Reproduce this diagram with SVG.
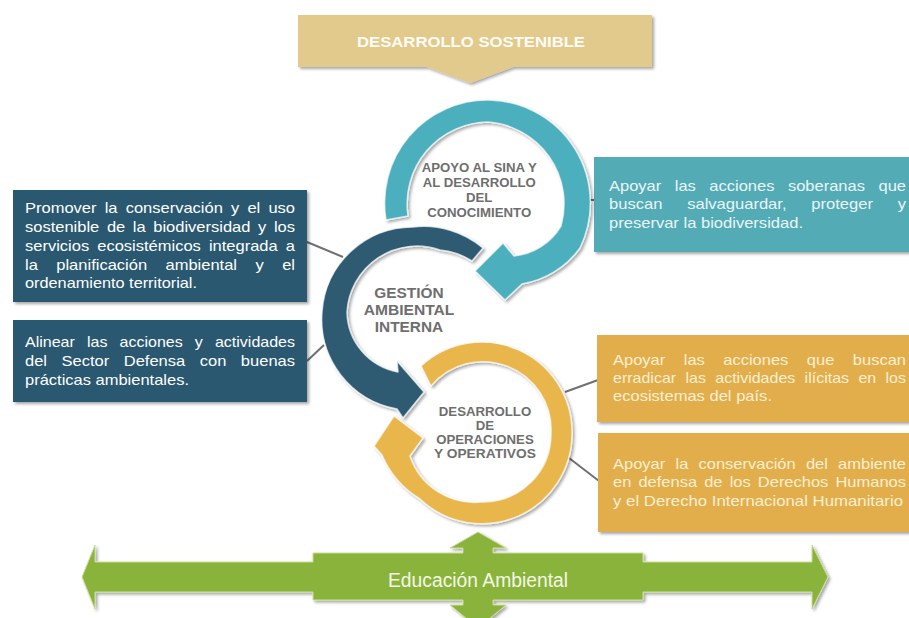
<svg xmlns="http://www.w3.org/2000/svg" width="909" height="618" viewBox="0 0 909 618">
<defs>
<filter id="sh" x="-10%" y="-10%" width="125%" height="130%"><feDropShadow dx="2" dy="2" stdDeviation="1.5" flood-color="#000" flood-opacity="0.35"/></filter>
<style>
.ring{stroke:#ffffff;stroke-opacity:0.7;stroke-width:1.5;stroke-linejoin:round;filter:url(#sh)}
.box{filter:url(#sh)}
.t{font-family:"Liberation Sans",Arial,sans-serif;font-size:15px}
.tw{fill:#ffffff}
.tt{fill:#eaf6f7}
.to{fill:#fbefd2}
.lbl{font-family:"Liberation Sans",Arial,sans-serif;font-weight:bold;fill:#6e6e6e}
.conn{stroke:#707070;stroke-width:2;fill:none}
</style>
</defs>
<rect width="909" height="618" fill="#ffffff"/>

<g id="connectors">
<line class="conn" x1="307" y1="242" x2="343" y2="257"/>
<line class="conn" x1="307" y1="361" x2="324" y2="345"/>
<line class="conn" x1="585" y1="200" x2="595" y2="200"/>
<line class="conn" x1="565" y1="392" x2="598" y2="380"/>
<line class="conn" x1="569" y1="458" x2="599" y2="481"/>
</g>

<g id="banner">
<path class="box" d="M298 15 H652 V67 H513 L470 83 L427 67 H298 Z" fill="#e2c98c"/>
<text class="lbl" x="357" y="47" font-size="15" style="fill:#fffdf5" textLength="228" lengthAdjust="spacingAndGlyphs">DESARROLLO SOSTENIBLE</text>
</g>

<g id="box-promover">
<rect class="box" x="13" y="190" width="294" height="112" fill="#2c5870"/>
<text class="t tw" x="25" y="213" word-spacing="3.26" textLength="270" lengthAdjust="spacingAndGlyphs">Promover la conservación y el uso</text>
<text class="t tw" x="25" y="232" word-spacing="2.74" textLength="270" lengthAdjust="spacingAndGlyphs">sostenible de la biodiversidad y los</text>
<text class="t tw" x="25" y="251" word-spacing="3.2" textLength="270" lengthAdjust="spacingAndGlyphs">servicios ecosistémicos integrada a</text>
<text class="t tw" x="25" y="269.5" word-spacing="12.6" textLength="270" lengthAdjust="spacingAndGlyphs">la planificación ambiental y el</text>
<text class="t tw" x="25" y="288" textLength="172" lengthAdjust="spacingAndGlyphs">ordenamiento territorial.</text>
</g>

<g id="box-alinear">
<rect class="box" x="13" y="320" width="294" height="82" fill="#2c5870"/>
<text class="t tw" x="25" y="347" word-spacing="7.2" textLength="270" lengthAdjust="spacingAndGlyphs">Alinear las acciones y actividades</text>
<text class="t tw" x="25" y="366" word-spacing="9.05" textLength="270" lengthAdjust="spacingAndGlyphs">del Sector Defensa con buenas</text>
<text class="t tw" x="25" y="385" textLength="164" lengthAdjust="spacingAndGlyphs">prácticas ambientales.</text>
</g>

<g id="box-apoyar-soberanas">
<rect class="box" x="594" y="157" width="320" height="95" fill="#53abb6"/>
<text class="t tt" x="609" y="191" word-spacing="8.1" textLength="297" lengthAdjust="spacingAndGlyphs">Apoyar las acciones soberanas que</text>
<text class="t tt" x="609" y="209" word-spacing="18.3" textLength="297" lengthAdjust="spacingAndGlyphs">buscan salvaguardar, proteger y</text>
<text class="t tt" x="609" y="227.5" textLength="194" lengthAdjust="spacingAndGlyphs">preservar la biodiversidad.</text>
</g>

<g id="box-erradicar">
<rect class="box" x="597" y="335" width="320" height="87" fill="#e2ae4c"/>
<text class="t to" x="613" y="365" word-spacing="12.6" textLength="293" lengthAdjust="spacingAndGlyphs">Apoyar las acciones que buscan</text>
<text class="t to" x="613" y="383" word-spacing="4.6" textLength="293" lengthAdjust="spacingAndGlyphs">erradicar las actividades ilícitas en los</text>
<text class="t to" x="613" y="401" textLength="159" lengthAdjust="spacingAndGlyphs">ecosistemas del país.</text>
</g>

<g id="box-conservacion">
<rect class="box" x="598" y="433" width="320" height="99" fill="#e2ae4c"/>
<text class="t to" x="613" y="469" word-spacing="5.1" textLength="293" lengthAdjust="spacingAndGlyphs">Apoyar la conservación del ambiente</text>
<text class="t to" x="613" y="487" word-spacing="2.3" textLength="293" lengthAdjust="spacingAndGlyphs">en defensa de los Derechos Humanos</text>
<text class="t to" x="613" y="505.5" textLength="290" lengthAdjust="spacingAndGlyphs">y el Derecho Internacional Humanitario</text>
</g>

<g id="ring-gestion">
<path class="ring" fill="#2d5a72" d="M483 248 A92 92 0 0 0 413 227 A91 91 0 0 0 322 312 A91 91 0 0 0 397 409 L403 418 L424 392 L397 361 L398 372 A62 62 0 0 1 347 312 A70 70 0 0 1 440 250 A72 72 0 0 1 472 261 Z"/>
<text class="lbl" font-size="14" x="374.3" y="298" textLength="69.3" lengthAdjust="spacingAndGlyphs">GESTIÓN</text>
<text class="lbl" font-size="14" x="363.7" y="315" textLength="90.7" lengthAdjust="spacingAndGlyphs">AMBIENTAL</text>
<text class="lbl" font-size="14" x="374.8" y="332" textLength="68.4" lengthAdjust="spacingAndGlyphs">INTERNA</text>
</g>

<g id="ring-sina">
<path class="ring" fill="#4cafbd" d="M386 220 A103 103 0 0 1 488 100 A103 103 0 0 1 580 248 A90 90 0 0 1 522 284 L505 300 L475 271 L503 243 L514 256 A62 62 0 0 0 561 226 A82 82 0 0 0 488 122 A82 82 0 0 0 408 216 Z"/>
<text class="lbl" font-size="12" x="421.7" y="172" textLength="115" lengthAdjust="spacingAndGlyphs">APOYO AL SINA Y</text>
<text class="lbl" font-size="12" x="422.7" y="187" textLength="113" lengthAdjust="spacingAndGlyphs">AL DESARROLLO</text>
<text class="lbl" font-size="12" x="466" y="202" textLength="26.4" lengthAdjust="spacingAndGlyphs">DEL</text>
<text class="lbl" font-size="12" x="427.2" y="216.5" textLength="104" lengthAdjust="spacingAndGlyphs">CONOCIMIENTO</text>
</g>

<g id="ring-operaciones">
<path class="ring" fill="#e9b64c" d="M421 366 A90 90 0 0 1 572 433 A90 90 0 0 1 420 499 A95 95 0 0 1 382 455 L374 446 L394 416 L423 438 L410 456 A68 68 0 0 0 482 502 A68 68 0 0 0 551 433 A68 68 0 0 0 431 386 Z"/>
<text class="lbl" font-size="12" x="438.8" y="416" textLength="92.4" lengthAdjust="spacingAndGlyphs">DESARROLLO</text>
<text class="lbl" font-size="12" x="475.8" y="429.5" textLength="18.3" lengthAdjust="spacingAndGlyphs">DE</text>
<text class="lbl" font-size="12" x="436.2" y="444" textLength="97.5" lengthAdjust="spacingAndGlyphs">OPERACIONES</text>
<text class="lbl" font-size="12" x="434" y="457.5" textLength="101.9" lengthAdjust="spacingAndGlyphs">Y OPERATIVOS</text>
</g>

<g id="educacion-ambiental">
<path class="box" fill="#8ab33b" stroke="#c9de9a" stroke-width="1" d="M82 577 L95 545 L95 562 L313 562 L313 553 L463 553 L463 548 L450 548 L478 532 L506 548 L493 548 L493 553 L643 553 L643 562 L812 562 L812 545 L828 577 L812 609 L812 592 L643 592 L643 600 L493 600 L493 605 L506 605 L478 628 L450 605 L463 605 L463 600 L313 600 L313 592 L95 592 L95 609 Z"/>
<text x="388" y="587" font-family="'Liberation Sans',Arial,sans-serif" font-size="20" fill="#f3f8e6" textLength="180" lengthAdjust="spacingAndGlyphs">Educación Ambiental</text>
</g>
</svg>
